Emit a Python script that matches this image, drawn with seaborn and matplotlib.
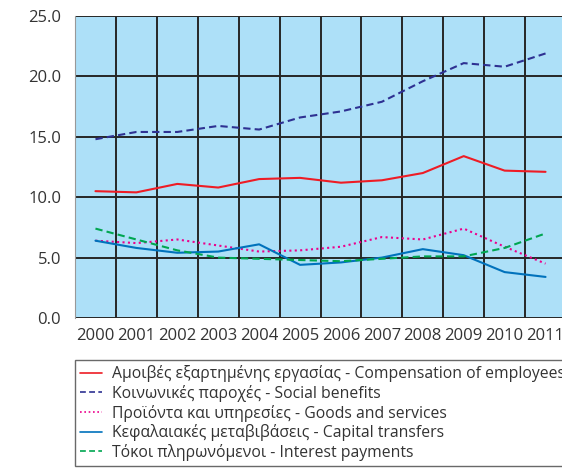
import matplotlib
matplotlib.use("Agg")
import matplotlib.pyplot as plt
import seaborn as sns
import pandas as pd
import numpy as np

# values (% of GDP)
years = [str(y) for y in range(2000, 2012)]
compensation = [10.5, 10.4, 11.1, 10.8, 11.5, 11.6, 11.2, 11.4, 12.0, 13.4, 12.2, 12.1]
social = [14.8, 15.4, 15.4, 15.9, 15.6, 16.6, 17.1, 17.9, 19.6, 21.1, 20.8, 21.9]
goods = [6.4, 6.2, 6.5, 6.0, 5.5, 5.6, 5.9, 6.7, 6.5, 7.4, 5.9, 4.5]
capital = [6.4, 5.8, 5.4, 5.5, 6.1, 4.4, 4.6, 5.0, 5.7, 5.2, 3.8, 3.4]
interest = [7.4, 6.5, 5.6, 5.0, 4.9, 4.8, 4.7, 4.9, 5.1, 5.1, 5.8, 7.0]

labels = [
    "Αμοιβές εξαρτημένης εργασίας - Compensation of employees",
    "Κοινωνικές παροχές - Social benefits",
    "Προϊόντα και υπηρεσίες - Goods and services",
    "Κεφαλαιακές μεταβιβάσεις - Capital transfers",
    "Τόκοι πληρωνόμενοι - Interest payments",
]
series = [compensation, social, goods, capital, interest]
colors = ["#ee1c25", "#2e3192", "#ec008c", "#0072bc", "#00a651"]
dashes = [None, (3.5, 2), (1, 1.6), None, (3.5, 2)]

sns.set_style("white")
plt.rcParams["font.family"] = ["Open Sans", "DejaVu Sans"]

fig = plt.figure(figsize=(5.62, 4.72), dpi=100)
ax = fig.add_axes([75 / 562, 1 - 318 / 472, 491 / 562, 302 / 472])
ax.set_facecolor("#ade0f8")

for lab, vals, col, ds in zip(labels, series, colors, dashes):
    df = pd.DataFrame({"year": years, "value": vals})
    sns.lineplot(data=df, x="year", y="value", ax=ax, color=col,
                 linewidth=1.5, label=lab, legend=False)
    if ds is not None:
        ax.lines[-1].set_dashes(ds)

ax.set_xlim(-0.5, 11.5)
ax.set_ylim(0, 25)
ax.set_yticks(np.arange(0, 26, 5))
ax.set_yticklabels([f"{v:.1f}" for v in np.arange(0, 26, 5)])
ax.set_xticks(range(12))
ax.set_xticklabels(years)
ax.set_xticks(np.arange(-0.5, 12, 1), minor=True)
ax.grid(True, which="minor", axis="x", color="#262626", linewidth=1.4)
ax.grid(True, which="major", axis="y", color="#262626", linewidth=1.4)
ax.set_axisbelow(True)
ax.set_xlabel("")
ax.set_ylabel("")
ax.tick_params(axis="x", which="both", length=0, labelsize=12, colors="#333333", pad=7)
ax.tick_params(axis="y", length=8, width=1.4, color="#262626", labelsize=12,
               labelcolor="#333333", pad=2)
for s in ax.spines.values():
    s.set_visible(False)
ax.spines["left"].set_visible(True)
ax.spines["left"].set_color("#999999")

handles = ax.get_lines()[:5]
leg = fig.legend(handles, labels, loc="upper left",
                 bbox_to_anchor=(75 / 562, 1 - 360 / 472), borderaxespad=0,
                 fontsize=11.3, frameon=True, fancybox=False, handlelength=1.4,
                 handletextpad=0.6, labelspacing=0.17, borderpad=0.33)
leg.get_frame().set_edgecolor("#444444")
leg.get_frame().set_linewidth(1.0)
for t in leg.get_texts():
    t.set_color("#333333")
for h in leg.legend_handles:
    h.set_linewidth(1.2)

fig.savefig("out.png", dpi=100)
